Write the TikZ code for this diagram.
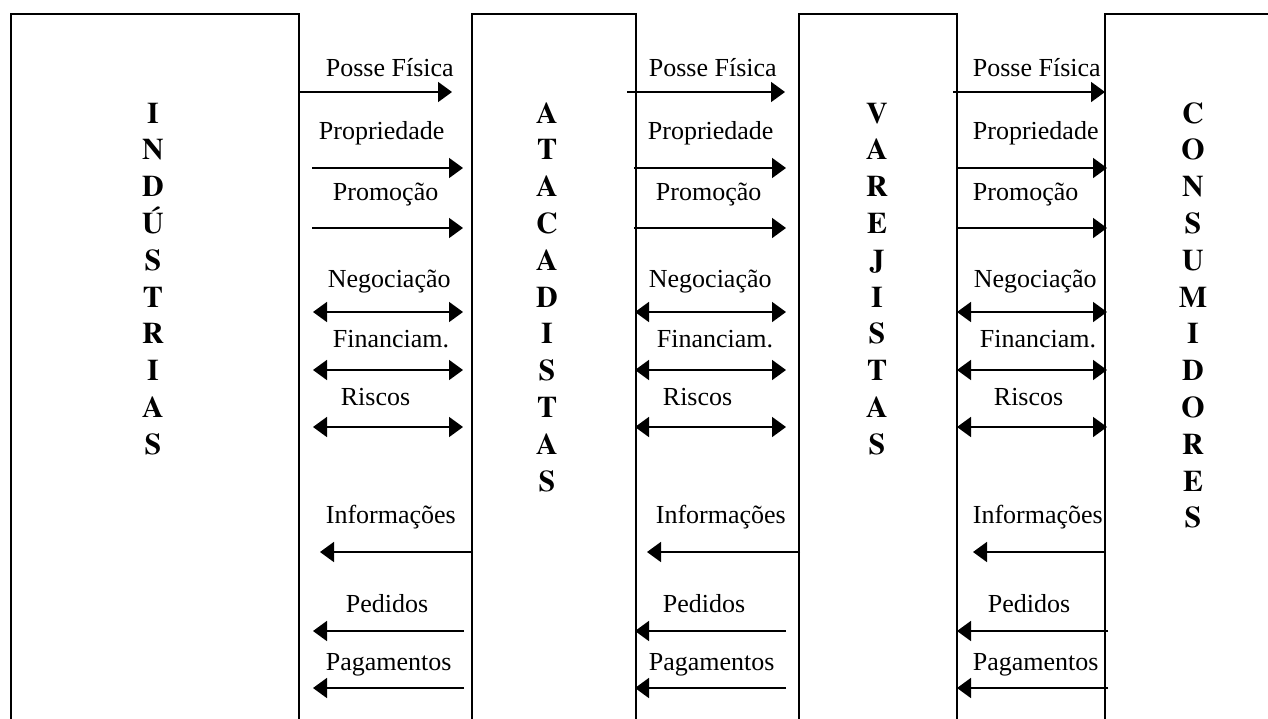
\documentclass[tikz,border=0pt]{standalone}
\usepackage{fontspec}
\setmainfont{Liberation Serif}
\newfontfamily\heavyserif{texgyretermes-bold.otf}
\usetikzlibrary{arrows.meta}
\begin{document}
\begin{tikzpicture}[x=1pt,y=-1pt,
  line width=1.8pt,
  area/.style={inner sep=0pt, minimum height=725pt},
  flow/.style={-{Triangle[length=14pt,width=20pt]}},
  both/.style={{Triangle[length=14pt,width=20pt]}-{Triangle[length=14pt,width=20pt]}},
  lbl/.style={anchor=base west, inner sep=0pt, font=\fontsize{26}{30}\selectfont},
  letter/.style={anchor=base, inner sep=0pt, font=\heavyserif\fontsize{30}{36}\selectfont}]

\useasboundingbox (0,0) rectangle (1268,718);

% the four channel members, open at the bottom
\node[area, minimum width=286pt] (ind)  at (155,377.5) {};
\node[area, minimum width=162pt] (atac) at (554,377.5) {};
\node[area, minimum width=156pt] (var)  at (878,377.5) {};
\node[area, minimum width=194pt] (cons) at (1203,377.5) {};
\foreach \b in {ind,atac,var,cons}
  \draw (\b.south west) |- (\b.north east) -- (\b.south east);

% vertical names
\foreach \l [count=\k from 0] in {I,N,D,Ú,S,T,R,I,A,S}
  \node[letter] (ind-\k) at (153,{123+36.8*\k}) {\l};
\foreach \l [count=\k from 0] in {A,T,A,C,A,D,I,S,T,A,S}
  \node[letter] (atac-\k) at (547,{123+36.8*\k}) {\l};
\foreach \l [count=\k from 0] in {V,A,R,E,J,I,S,T,A,S}
  \node[letter] (var-\k) at (877,{123+36.8*\k}) {\l};
\foreach \l [count=\k from 0] in {C,O,N,S,U,M,I,D,O,R,E,S}
  \node[letter] (cons-\k) at (1193,{123+36.8*\k}) {\l};

% flows between neighbouring members: name/y/start/end/style
\foreach \n/\y/\xa/\xb/\s in {
  a1/92/298/452/flow, a2/168/312/463/flow, a3/228/312/463/flow,
  a4/312/313/463/both, a5/370/313/463/both, a6/427/313/463/both,
  a7/552/473/320/flow, a8/631/464/313/flow, a9/688/464/313/flow,
  b1/92/627/785/flow, b2/168/634/786/flow, b3/228/634/786/flow,
  b4/312/635/786/both, b5/370/635/786/both, b6/427/635/786/both,
  b7/552/800/647/flow, b8/631/786/635/flow, b9/688/786/635/flow,
  c1/92/953/1105/flow, c2/168/956/1107/flow, c3/228/956/1107/flow,
  c4/312/957/1107/both, c5/370/957/1107/both, c6/427/957/1107/both,
  c7/552/1106/973/flow, c8/631/1108/957/flow, c9/688/1108/957/flow}
{
  \coordinate (\n-s) at (\xa,\y);
  \coordinate (\n-e) at (\xb,\y);
  \draw[\s] (\n-s) -- (\n-e);
}

% flow labels: name/left x/baseline/text
\foreach \n/\x/\y/\t in {
  a1/325/76/Posse Física, a2/318/139/Propriedade, a3/332/200/Promoção,
  a4/327/287/Negociação, a5/332/347/Financiam., a6/340/405/Riscos,
  a7/325/523/Informações, a8/345/612/Pedidos, a9/325/670/Pagamentos,
  b1/648/76/Posse Física, b2/647/139/Propriedade, b3/655/200/Promoção,
  b4/648/287/Negociação, b5/656/347/Financiam., b6/662/405/Riscos,
  b7/655/523/Informações, b8/662/612/Pedidos, b9/648/670/Pagamentos,
  c1/972/76/Posse Física, c2/972/139/Propriedade, c3/972/200/Promoção,
  c4/973/287/Negociação, c5/979/347/Financiam., c6/993/405/Riscos,
  c7/972/523/Informações, c8/987/612/Pedidos, c9/972/670/Pagamentos}
  \node[lbl] (\n-lbl) at (\x,\y) {\t};

\end{tikzpicture}
\end{document}
